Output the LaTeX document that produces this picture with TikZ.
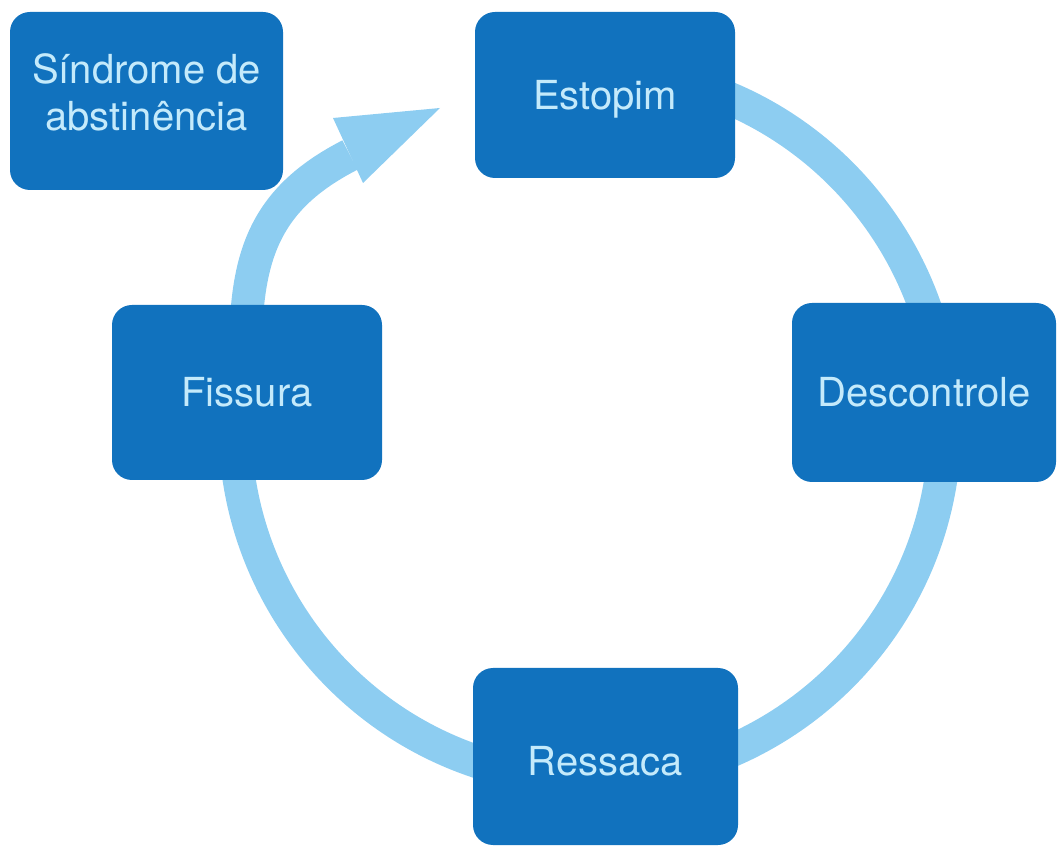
\documentclass[tikz,border=0pt]{standalone}
\usepackage{fontspec}
\setmainfont{TeX Gyre Heros}
\definecolor{boxblue}{RGB}{17,114,190}
\definecolor{ringblue}{RGB}{141,205,241}
\definecolor{txtblue}{RGB}{196,234,251}
\begin{document}
\begin{tikzpicture}[x=1pt,y=1pt,
  boxbase/.style={fill=boxblue, rounded corners=20pt, text=txtblue,
    font=\fontsize{40}{47}\selectfont, align=center, inner sep=0pt},
  single/.style={boxbase, text height=29pt, text depth=0pt},
  ring/.style={draw=ringblue, line width=33pt},
  headfill/.style={fill=ringblue}]
\useasboundingbox (0,0) rectangle (1057,846);
\coordinate (ctr) at (590,421);
% ring (drawn first, boxes on top)
\draw[ring] (ctr) ++(175:355) arc[start angle=175, end angle=440, radius=355pt];
% arrow shaft and head toward Estopim
\coordinate (shaftA) at (246,516);
\coordinate (shaftB) at (350,691);
\coordinate (tip) at (440,738);
\draw[ring] (shaftA) .. controls (249,600) and (272,651) .. (shaftB);
\fill[headfill] (333,728) -- (tip) -- (363,663) -- cycle;
% boxes
\node[boxbase, minimum width=273pt, minimum height=178pt] (sind) at (146.5,745)
  {Síndrome de\\abstinência\rule[-18pt]{0pt}{18pt}};
\node[single, minimum width=260pt, minimum height=166pt] (estopim) at (605,751) {Estopim};
\node[single, minimum width=264pt, minimum height=179pt] (descontrole) at (924,453.5) {Descontrole};
\node[single, minimum width=270pt, minimum height=175pt] (fissura) at (247,453.5) {Fissura};
\node[single, text height=38pt, minimum width=265pt, minimum height=177pt] (ressaca) at (605.5,89.5) {Ressaca};
\end{tikzpicture}
\end{document}
